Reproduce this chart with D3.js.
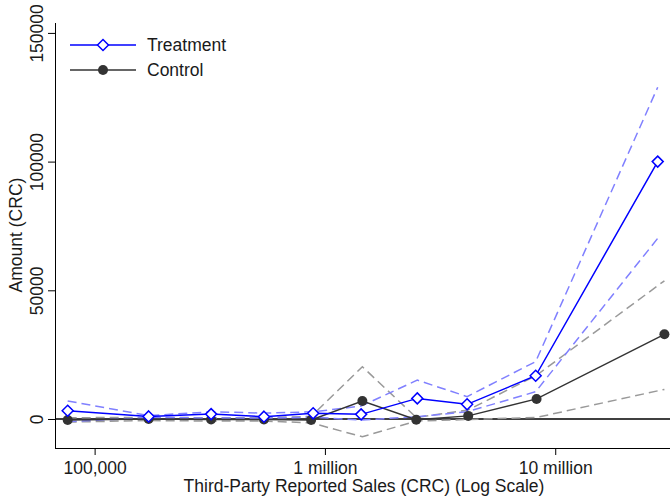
<!DOCTYPE html>
<html>
<head>
<meta charset="utf-8">
<script src="https://cdn.jsdelivr.net/npm/d3@7"></script>
<style>
  html, body { margin: 0; padding: 0; background: #fff; }
  svg { display: block; font-family: "Liberation Sans", Arial, Helvetica, sans-serif; }
</style>
</head>
<body>
<svg id="chart" width="670" height="501"></svg>
<script>
// Average third-party reported sales per bin (CRC)
const salesTreatment = [76400, 171600, 320500, 543600, 889000, 1436000, 2518000, 4143000, 8224000, 27860000];
const salesControl   = [76400, 171600, 320500, 543600, 871000, 1454000, 2492000, 4188000, 8298000, 29790000];

// Mean amount (CRC) and 95% confidence bounds
const treatment      = [3200, 1000, 1900, 900, 2200, 1800, 8000, 5700, 16800, 100000];
const treatmentUpper = [7000, 1300, 2800, 2300, 2800, 5000, 15100, 8700, 22300, 128900];
const treatmentLower = [-1000, 500, 400, 300, 700, -400, 900, 2800, 10600, 70200];

const control      = [-400, 0, -200, -200, -400, 7000, -300, 1200, 7800, 32900];
const controlUpper = [500, 600, 500, 500, 1000, 20300, 600, 3500, 17000, 53700];
const controlLower = [-1200, -600, -800, -800, -1500, -6900, -800, -200, 600, 11500];

const xTickValues = [1e5, 1e6, 1e7];
const xTickLabels = ["100,000", "1 million", "10 million"];
const yTickValues = [0, 50000, 100000, 150000];

const svg = d3.select("#chart");
const plotLeft = 55, plotRight = 670, plotTop = 23, plotBottom = 448;
const fontSize = 17.5, textColor = "#1a1a1a";

const x = d3.scaleLog().domain([67300, 31500000]).range([plotLeft, plotRight]);
const y = d3.scaleLinear().domain([-11270, 153850]).range([plotBottom, plotTop]);

const blue = "#0000ff", lightBlue = "#8080ff", dark = "#333333", gray = "#999999";

// Axes
const xAxis = d3.axisBottom(x).tickValues(xTickValues)
  .tickFormat((d, i) => xTickLabels[i]).tickSize(7).tickPadding(4);
const gx = svg.append("g").attr("transform", `translate(0,${plotBottom})`).call(xAxis);
gx.select(".domain").attr("d", `M${plotLeft},0.5H${plotRight}`).attr("stroke", "#000");
gx.selectAll(".tick line").attr("stroke", "#000");
gx.selectAll(".tick text").attr("font-size", fontSize).attr("fill", textColor)
  .attr("font-family", "Liberation Sans, Arial, sans-serif").attr("dy", "0.83em");

const yAxis = d3.axisLeft(y).tickValues(yTickValues).tickFormat(d3.format("d")).tickSize(7);
const gy = svg.append("g").attr("transform", `translate(${plotLeft},0)`).call(yAxis);
gy.select(".domain").attr("d", `M0.5,${plotTop}V${plotBottom}`).attr("stroke", "#000");
gy.selectAll(".tick line").attr("stroke", "#000");
gy.selectAll(".tick text")
  .attr("font-size", fontSize).attr("fill", textColor)
  .attr("font-family", "Liberation Sans, Arial, sans-serif")
  .attr("text-anchor", "middle")
  .attr("x", null).attr("dy", null)
  .attr("transform", "translate(-12,0) rotate(-90)");

// Axis titles
svg.append("text").attr("x", 364).attr("y", 492).attr("text-anchor", "middle")
  .attr("font-size", fontSize).attr("fill", textColor)
  .text("Third-Party Reported Sales (CRC) (Log Scale)");
svg.append("text").attr("transform", "translate(22,235) rotate(-90)")
  .attr("text-anchor", "middle").attr("font-size", fontSize).attr("fill", textColor)
  .text("Amount (CRC)");

// Zero reference line
svg.append("line").attr("x1", plotLeft).attr("x2", plotRight)
  .attr("y1", y(0)).attr("y2", y(0)).attr("stroke", "#000").attr("stroke-width", 1.3);

function path(xs, ys) {
  return d3.line().x((d, i) => x(xs[i])).y(d => y(d))(ys);
}
function dashed(xs, ys, color) {
  svg.append("path").attr("d", path(xs, ys)).attr("fill", "none")
    .attr("stroke", color).attr("stroke-width", 1.5).attr("stroke-dasharray", "9,5");
}

// Confidence bounds
dashed(salesControl, controlUpper, gray);
dashed(salesControl, controlLower, gray);
dashed(salesTreatment, treatmentUpper, lightBlue);
dashed(salesTreatment, treatmentLower, lightBlue);

// Control series
svg.append("path").attr("d", path(salesControl, control)).attr("fill", "none")
  .attr("stroke", dark).attr("stroke-width", 1.4);
svg.append("g").selectAll("circle").data(control).join("circle")
  .attr("cx", (d, i) => x(salesControl[i])).attr("cy", d => y(d))
  .attr("r", 5).attr("fill", dark);

// Treatment series
const diamond = s => `M0,${-s}L${s},0L0,${s}L${-s},0Z`;
svg.append("path").attr("d", path(salesTreatment, treatment)).attr("fill", "none")
  .attr("stroke", blue).attr("stroke-width", 1.5);
svg.append("g").selectAll("path").data(treatment).join("path")
  .attr("transform", (d, i) => `translate(${x(salesTreatment[i])},${y(d)})`)
  .attr("d", diamond(5.5)).attr("fill", "#fff").attr("stroke", blue).attr("stroke-width", 1.5);

// Legend
const legend = svg.append("g");
legend.append("line").attr("x1", 70).attr("x2", 136).attr("y1", 45).attr("y2", 45)
  .attr("stroke", blue).attr("stroke-width", 1.5);
legend.append("path").attr("transform", "translate(103,45)").attr("d", diamond(5.5))
  .attr("fill", "#fff").attr("stroke", blue).attr("stroke-width", 1.5);
legend.append("text").attr("x", 147).attr("y", 51).attr("font-size", fontSize)
  .attr("fill", textColor).text("Treatment");
legend.append("line").attr("x1", 70).attr("x2", 136).attr("y1", 70).attr("y2", 70)
  .attr("stroke", dark).attr("stroke-width", 1.4);
legend.append("circle").attr("cx", 103).attr("cy", 70).attr("r", 5).attr("fill", dark);
legend.append("text").attr("x", 147).attr("y", 76).attr("font-size", fontSize)
  .attr("fill", textColor).text("Control");
</script>
</body>
</html>
